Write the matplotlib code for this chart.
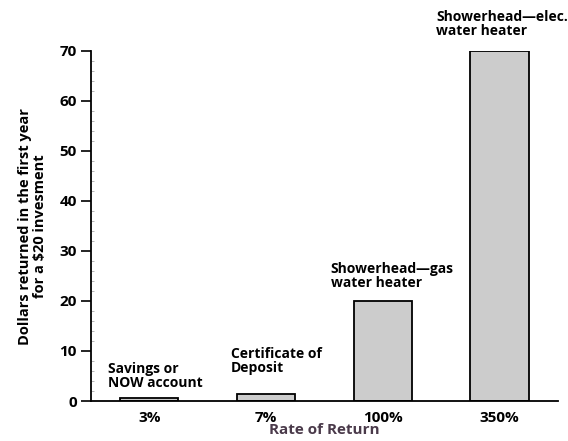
import numpy as np
import matplotlib.pyplot as plt
from matplotlib.ticker import MultipleLocator

plt.rcParams['font.family'] = ['Open Sans', 'DejaVu Sans']
plt.rcParams['font.weight'] = 'bold'

categories = ['3%', '7%', '100%', '350%']
values = [0.6, 1.4, 20, 70]
labels = ['Savings or\nNOW account', 'Certificate of\nDeposit',
          'Showerhead\u2014gas\nwater heater', 'Showerhead\u2014elec.\nwater heater']
# label offsets from bar top-center, in pixels
offsets = [(-41, 8), (-35, 19), (-52, 11), (-63, 13)]

fig = plt.figure(figsize=(5.68, 4.41), dpi=100)
ax = fig.add_axes([0.160, 0.0907, 0.822, 0.7937])

x = np.arange(len(categories))
ax.bar(x, values, width=0.5, color='#cccccc', edgecolor='black', linewidth=1.3)

for xi, v, lab, off in zip(x, values, labels, offsets):
    ax.annotate(lab, xy=(xi, v), xytext=off, textcoords='offset pixels',
                ha='left', va='bottom', fontsize=10, fontweight='bold',
                linespacing=1.0, annotation_clip=False)

ax.set_xlim(-0.5, 3.5)
ax.set_ylim(0, 70)
ax.set_xticks(x)
ax.set_xticklabels(categories)
ax.yaxis.set_major_locator(MultipleLocator(10))
ax.yaxis.set_minor_locator(MultipleLocator(2))

ax.spines.top.set_visible(False)
ax.spines.right.set_visible(False)
ax.spines.left.set_linewidth(1.3)
ax.spines.bottom.set_linewidth(1.3)

ax.tick_params(axis='y', which='major', direction='out', length=7, width=1.2, labelsize=11, pad=3)
ax.tick_params(axis='y', which='minor', direction='in', length=2, width=0.5, color='#999999')
ax.tick_params(axis='x', length=0, labelsize=11, pad=7)
for t in ax.get_xticklabels() + ax.get_yticklabels():
    t.set_fontweight('bold')

ax.set_xlabel('Rate of Return', fontsize=11, fontweight='bold', color='#4a3a4a', labelpad=-1)
fig.text(0.057, 0.487, 'Dollars returned in the first year\nfor a $20 invesment',
         rotation=90, ha='center', va='center', fontsize=10.5, fontweight='bold',
         linespacing=1.05)

fig.savefig('out.png', dpi=100)
